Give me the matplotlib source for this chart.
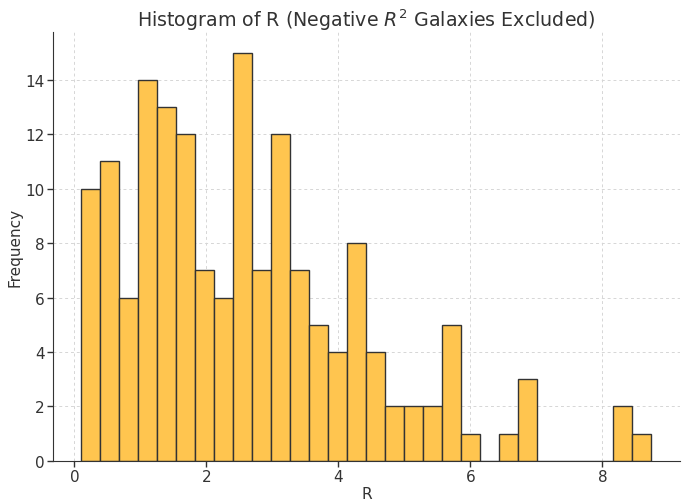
import matplotlib.pyplot as plt
import numpy as np

# Counts per bin of R (30 equal-width bins)
counts = [10, 11, 6, 14, 13, 12, 7, 6, 15, 7, 12, 7, 5, 4, 8,
          4, 2, 2, 2, 5, 1, 0, 1, 3, 0, 0, 0, 0, 2, 1]
r_min = 0.106
r_max = 8.74
n_bins = 30

edges = np.linspace(r_min, r_max, n_bins + 1)
centers = (edges[:-1] + edges[1:]) / 2

plt.rcParams['text.color'] = '#333333'
plt.rcParams['axes.labelcolor'] = '#333333'
plt.rcParams['xtick.color'] = '#333333'
plt.rcParams['ytick.color'] = '#333333'

fig = plt.figure(figsize=(6.86, 5.02), dpi=100)
ax = fig.add_axes([0.077, 0.080, 0.914, 0.854])

ax.hist(centers, bins=edges, weights=counts, color='#FFC54F',
        edgecolor='#333333', linewidth=1.0)

ax.set_title('Histogram of R (Negative $R^2$ Galaxies Excluded)', fontsize=13.7, pad=4)
ax.set_xlabel('R', fontsize=11, labelpad=1)
ax.set_ylabel('Frequency', fontsize=11, labelpad=2)
ax.set_yticks(range(0, 15, 2))
ax.set_xticks(range(0, 9, 2))
ax.tick_params(labelsize=11, length=4, width=1, pad=2)

ax.grid(True, linestyle=(0, (3, 3)), color='#d6d6d6', linewidth=0.7)
ax.set_axisbelow(True)
for side in ['top', 'right']:
    ax.spines[side].set_visible(False)
for side in ['left', 'bottom']:
    ax.spines[side].set_color('#333333')

plt.savefig('out.png', dpi=100)
